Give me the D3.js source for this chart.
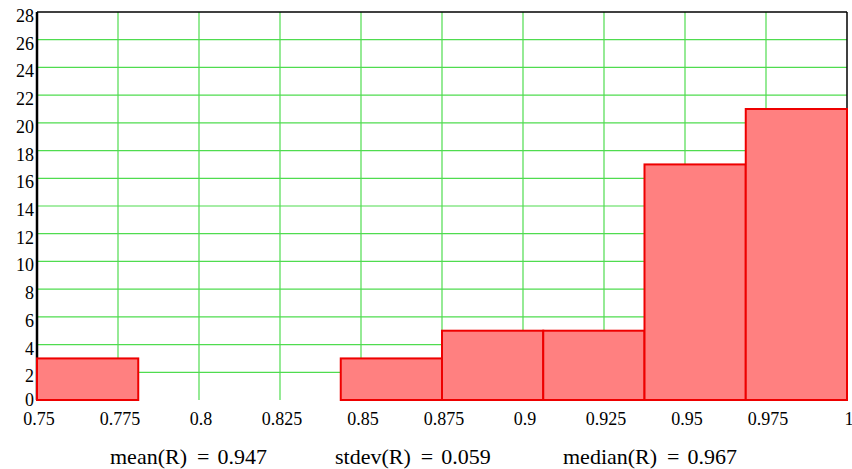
<!DOCTYPE html>
<html>
<head>
<meta charset="utf-8">
<script src="https://cdn.jsdelivr.net/npm/d3@7"></script>
<style>
  html, body { margin: 0; padding: 0; background: #ffffff; }
  svg { display: block; }
  text { font-family: "Liberation Serif", "Times New Roman", serif; fill: #000; }
</style>
</head>
<body>
<svg id="chart" width="852" height="469"></svg>
<script>
// Data
const binEdges = [0.75, 0.78125, 0.8125, 0.84375, 0.875, 0.90625, 0.9375, 0.96875, 1.0];
const binCounts = [3, 0, 0, 3, 5, 5, 17, 21];
const xTicks = [0.75, 0.775, 0.8, 0.825, 0.85, 0.875, 0.9, 0.925, 0.95, 0.975, 1];
const xTickLabels = ["0.75", "0.775", "0.8", "0.825", "0.85", "0.875", "0.9", "0.925", "0.95", "0.975", "1"];
const yTicks = [0, 2, 4, 6, 8, 10, 12, 14, 16, 18, 20, 22, 24, 26, 28];
const statLabels = ["mean(R)", "stdev(R)", "median(R)"];
const statValues = ["0.947", "0.059", "0.967"];

const svg = d3.select("#chart");
const pL = 37, pR = 847, pT = 12, pB = 400;

const x = d3.scaleLinear().domain([0.75, 1]).range([pL, pR]);
const y = d3.scaleLinear().domain([0, 28]).range([pB, pT]);

// Grid
const grid = svg.append("g");
grid.selectAll("line.h").data(yTicks.filter(d => d > 0 && d < 28)).join("line")
  .attr("class", "h")
  .attr("x1", pL).attr("x2", pR)
  .attr("y1", d => y(d)).attr("y2", d => y(d))
  .attr("stroke", "#4fdc4f").attr("stroke-width", 1.2);
grid.selectAll("line.v").data(xTicks.filter(d => d > 0.75 && d < 1)).join("line")
  .attr("class", "v")
  .attr("y1", pT).attr("y2", pB)
  .attr("x1", d => x(d)).attr("x2", d => x(d))
  .attr("stroke", "#4fdc4f").attr("stroke-width", 1.2);

// Frame
svg.append("line").attr("x1", pL).attr("x2", pR).attr("y1", pT).attr("y2", pT)
  .attr("stroke", "#000").attr("stroke-width", 1.5);
svg.append("line").attr("x1", pR).attr("x2", pR).attr("y1", pT).attr("y2", pB)
  .attr("stroke", "#000").attr("stroke-width", 1.5);
svg.append("line").attr("x1", pL).attr("x2", pL).attr("y1", pT).attr("y2", pB)
  .attr("stroke", "#000").attr("stroke-width", 2.5);

// Bars
const bins = binCounts.map((c, i) => ({ x0: binEdges[i], x1: binEdges[i + 1], count: c }));
svg.append("g").selectAll("rect").data(bins).join("rect")
  .attr("x", d => x(d.x0))
  .attr("width", d => x(d.x1) - x(d.x0))
  .attr("y", d => y(d.count))
  .attr("height", d => y(0) - y(d.count))
  .attr("fill", "#ff8080")
  .attr("stroke", "#ee0000")
  .attr("stroke-width", 2);

// Y tick labels
svg.append("g").selectAll("text").data(yTicks).join("text")
  .attr("x", 34)
  .attr("y", d => y(d) + (d === 0 ? 6 : 10))
  .attr("text-anchor", "end")
  .attr("font-size", 18)
  .text(d => d);

// X tick labels
svg.append("g").selectAll("text").data(xTicks).join("text")
  .attr("x", d => x(d) + 2)
  .attr("y", pB + 25)
  .attr("text-anchor", "middle")
  .attr("font-size", 18)
  .text((d, i) => xTickLabels[i]);

// Statistics
const statX = [110, 335, 563];
const statG = svg.append("g");
statLabels.forEach((lab, i) => {
  const t = statG.append("text")
    .attr("x", statX[i]).attr("y", 464)
    .attr("font-size", 22);
  t.append("tspan").text(lab);
  t.append("tspan").attr("dx", 10).text("=");
  t.append("tspan").attr("dx", 8).text(statValues[i]);
});
</script>
</body>
</html>
